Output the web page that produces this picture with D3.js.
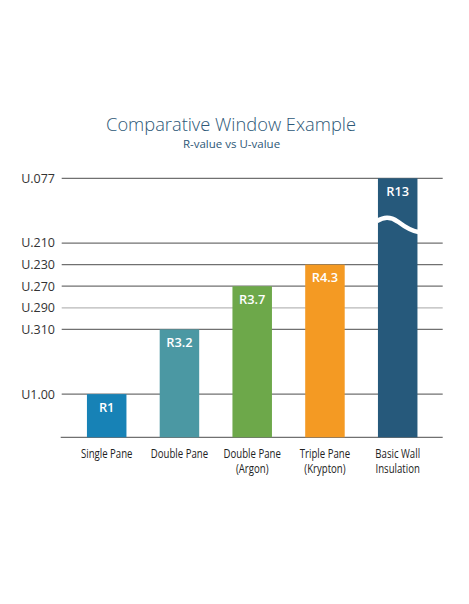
<!DOCTYPE html>
<html>
<head>
<meta charset="utf-8">
<script src="https://cdn.jsdelivr.net/npm/d3@7"></script>
<style>
  body { margin: 0; background: #fff; }
  svg { display: block; }
</style>
</head>
<body>
<div id="chart"></div>
<script>
// data
var categories = ["Single Pane", "Double Pane", "Double Pane\n(Argon)", "Triple Pane\n(Krypton)", "Basic Wall\nInsulation"];
var rValues = ["R1", "R3.2", "R3.7", "R4.3", "R13"];
var uValues = ["U1.00", "U.310", "U.270", "U.230", "U.077"];
var barColors = ["#1782b6", "#4b98a3", "#6da84a", "#f49a23", "#26597b"];
// y ticks bottom to top, "gap" entries are empty steps on the axis
var yLevels = ["base", "gap1", "U1.00", "gap2", "gap3", "U.310", "U.290", "U.270", "U.230", "U.210", "gap4", "gap5", "U.077"];
var yTicks = ["U1.00", "U.310", "U.290", "U.270", "U.230", "U.210", "U.077"];
var lightTicks = ["U.290"];
var brokenBar = "R13";

var width = 469, height = 604;
var plotLeft = 61.7, plotRight = 442.7, plotTop = 178.3, plotBottom = 437.3;

var svg = d3.select('#chart').append("svg")
  .attr("width", width)
  .attr("height", height);

var x = d3.scaleBand()
  .domain(categories)
  .range([plotLeft, plotRight])
  .paddingInner(0.457)
  .paddingOuter(0.347);

var y = d3.scalePoint()
  .domain(yLevels)
  .range([plotBottom, plotTop]);

// title
svg.append("text")
  .attr("x", 231)
  .attr("y", 131)
  .attr("text-anchor", "middle")
  .attr("font-family", "'Open Sans', sans-serif")
  .attr("font-weight", 300)
  .attr("font-size", 18.3)
  .attr("fill", "#2d5877")
  .text("Comparative Window Example");

svg.append("text")
  .attr("x", 231.5)
  .attr("y", 148)
  .attr("text-anchor", "middle")
  .attr("font-family", "'Open Sans', sans-serif")
  .attr("font-size", 11.5)
  .attr("fill", "#2d5877")
  .text("R-value vs U-value");

// grid lines + labels
var grid = svg.append("g");
grid.selectAll("line")
  .data(yTicks)
  .enter().append("line")
  .attr("x1", plotLeft)
  .attr("x2", plotRight)
  .attr("y1", function(d){ return y(d); })
  .attr("y2", function(d){ return y(d); })
  .attr("stroke", function(d){ return lightTicks.indexOf(d) >= 0 ? "#b8b8b8" : "#707070"; })
  .attr("stroke-width", 1.3);

grid.selectAll("text")
  .data(yTicks)
  .enter().append("text")
  .attr("x", 55)
  .attr("y", function(d){ return y(d); })
  .attr("dy", "0.35em")
  .attr("text-anchor", "end")
  .attr("font-family", "'Open Sans', sans-serif")
  .attr("font-size", 12.5)
  .attr("fill", "#333")
  .text(function(d){ return d; });

// baseline
svg.append("line")
  .attr("x1", plotLeft - 1)
  .attr("x2", plotRight)
  .attr("y1", y("base"))
  .attr("y2", y("base"))
  .attr("stroke", "#707070")
  .attr("stroke-width", 1.3);

// bars
var bars = svg.selectAll(".bar")
  .data(categories)
  .enter().append("g")
  .attr("class", "bar");

bars.append("rect")
  .attr("x", function(d){ return x(d); })
  .attr("y", function(d, i){ return y(uValues[i]); })
  .attr("width", x.bandwidth())
  .attr("height", function(d, i){ return y("base") - y(uValues[i]); })
  .attr("fill", function(d, i){ return barColors[i]; });

bars.append("text")
  .attr("x", function(d){ return x(d) + x.bandwidth() / 2; })
  .attr("y", function(d, i){ return y(uValues[i]) + 17.5; })
  .attr("text-anchor", "middle")
  .attr("font-family", "'Open Sans', sans-serif")
  .attr("font-weight", 600)
  .attr("font-size", 12.8)
  .attr("fill", "#fff")
  .text(function(d, i){ return rValues[i]; });

// wave break on the tall bar
var bi = rValues.indexOf(brokenBar);
var bx = x(categories[bi]), bw = x.bandwidth();
var yMid = y("U.210") + (y("U.077") - y("U.210")) * 0.34;
var wave = d3.path();
wave.moveTo(bx - 1, yMid);
wave.bezierCurveTo(bx + bw * 0.15, yMid - 4, bx + bw * 0.3, yMid - 5, bx + bw * 0.5, yMid + 0.5);
wave.bezierCurveTo(bx + bw * 0.7, yMid + 6.5, bx + bw * 0.85, yMid + 10, bx + bw + 1, yMid + 11);
svg.append("path")
  .attr("d", wave.toString())
  .attr("fill", "none")
  .attr("stroke", "#fff")
  .attr("stroke-width", 4.5);

// x labels (condensed look via horizontal squeeze)
var xl = svg.selectAll(".xlabel")
  .data(categories)
  .enter().append("text")
  .attr("class", "xlabel")
  .attr("text-anchor", "middle")
  .attr("font-family", "'Open Sans', sans-serif")
  .attr("font-size", 13)
  .attr("fill", "#222")
  .attr("transform", function(d){ return "translate(" + (x(d) + x.bandwidth() / 2) + "," + 457.5 + ") scale(0.74,1)"; });

xl.selectAll("tspan")
  .data(function(d){ return d.split("\n"); })
  .enter().append("tspan")
  .attr("x", 0)
  .attr("dy", function(d, i){ return i ? 16 : 0; })
  .text(function(d){ return d; });
</script>
</body>
</html>
